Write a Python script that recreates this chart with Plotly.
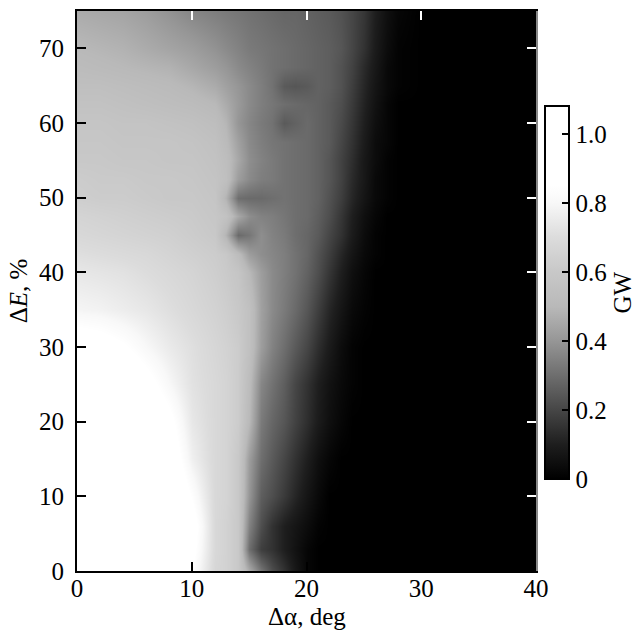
import plotly.graph_objects as go

# x: angle spread (deg), y: energy spread (%)
alpha_deg = [0, 2, 4, 6, 8, 10, 12, 13, 14, 15, 16, 17, 18, 19, 20, 21, 22, 23, 24, 25, 26, 27, 28, 30, 40]
dE_pct = [0, 3, 6, 10, 15, 20, 25, 30, 35, 40, 42.5, 45, 47.5, 50, 52.5, 55, 57.5, 60, 62.5, 65, 67.5, 70, 75]

# power, GW (rows follow dE_pct, columns follow alpha_deg)
power_gw = [
    [1.0, 1.0, 1.0, 1.0, 1.0, 0.85, 0.67, 0.65, 0.60, 0.46, 0.32, 0.22, 0.15, 0.08, 0.02, 0, 0, 0, 0, 0, 0, 0, 0, 0, 0],
    [1.0, 1.0, 1.0, 1.0, 1.0, 0.88, 0.68, 0.65, 0.60, 0.30, 0.18, 0.15, 0.10, 0.06, 0.02, 0, 0, 0, 0, 0, 0, 0, 0, 0, 0],
    [1.0, 1.0, 1.0, 1.0, 1.0, 0.90, 0.68, 0.65, 0.60, 0.35, 0.22, 0.15, 0.10, 0.07, 0.04, 0.01, 0, 0, 0, 0, 0, 0, 0, 0, 0],
    [1.0, 1.0, 1.0, 1.0, 0.98, 0.84, 0.68, 0.66, 0.60, 0.40, 0.26, 0.22, 0.17, 0.12, 0.07, 0.03, 0, 0, 0, 0, 0, 0, 0, 0, 0],
    [1.0, 1.0, 1.0, 1.0, 0.93, 0.77, 0.68, 0.66, 0.60, 0.42, 0.30, 0.25, 0.20, 0.15, 0.10, 0.05, 0.02, 0, 0, 0, 0, 0, 0, 0, 0],
    [1.0, 1.0, 1.0, 0.97, 0.88, 0.74, 0.68, 0.66, 0.62, 0.50, 0.33, 0.28, 0.24, 0.19, 0.14, 0.09, 0.05, 0.02, 0, 0, 0, 0, 0, 0, 0],
    [1.0, 1.0, 0.97, 0.89, 0.80, 0.72, 0.68, 0.66, 0.62, 0.52, 0.36, 0.31, 0.26, 0.20, 0.15, 0.10, 0.06, 0.03, 0.01, 0, 0, 0, 0, 0, 0],
    [0.92, 0.90, 0.86, 0.80, 0.75, 0.71, 0.67, 0.65, 0.62, 0.55, 0.42, 0.35, 0.30, 0.25, 0.20, 0.14, 0.09, 0.04, 0.01, 0, 0, 0, 0, 0, 0],
    [0.79, 0.78, 0.76, 0.74, 0.71, 0.68, 0.65, 0.63, 0.60, 0.55, 0.43, 0.37, 0.33, 0.29, 0.24, 0.18, 0.12, 0.07, 0.03, 0.01, 0, 0, 0, 0, 0],
    [0.74, 0.73, 0.72, 0.70, 0.68, 0.66, 0.63, 0.61, 0.58, 0.50, 0.42, 0.37, 0.34, 0.31, 0.27, 0.22, 0.16, 0.10, 0.05, 0.02, 0, 0, 0, 0, 0],
    [0.71, 0.70, 0.69, 0.68, 0.66, 0.64, 0.62, 0.60, 0.52, 0.42, 0.38, 0.36, 0.34, 0.31, 0.28, 0.23, 0.18, 0.12, 0.07, 0.03, 0.01, 0, 0, 0, 0],
    [0.68, 0.67, 0.66, 0.65, 0.64, 0.62, 0.60, 0.48, 0.29, 0.32, 0.38, 0.35, 0.33, 0.30, 0.28, 0.25, 0.20, 0.15, 0.09, 0.04, 0.01, 0, 0, 0, 0],
    [0.66, 0.65, 0.64, 0.63, 0.62, 0.61, 0.59, 0.56, 0.45, 0.38, 0.35, 0.34, 0.32, 0.30, 0.29, 0.26, 0.22, 0.16, 0.10, 0.05, 0.02, 0, 0, 0, 0],
    [0.63, 0.62, 0.62, 0.61, 0.60, 0.60, 0.58, 0.48, 0.30, 0.29, 0.29, 0.30, 0.31, 0.30, 0.29, 0.27, 0.23, 0.18, 0.12, 0.07, 0.03, 0.01, 0, 0, 0],
    [0.62, 0.61, 0.61, 0.60, 0.60, 0.59, 0.57, 0.54, 0.42, 0.37, 0.34, 0.33, 0.31, 0.30, 0.29, 0.27, 0.24, 0.19, 0.13, 0.08, 0.03, 0.01, 0, 0, 0],
    [0.60, 0.60, 0.59, 0.59, 0.58, 0.58, 0.56, 0.53, 0.45, 0.38, 0.35, 0.33, 0.31, 0.30, 0.29, 0.27, 0.24, 0.19, 0.14, 0.08, 0.04, 0.01, 0, 0, 0],
    [0.59, 0.59, 0.58, 0.58, 0.58, 0.57, 0.55, 0.51, 0.43, 0.37, 0.34, 0.32, 0.31, 0.30, 0.29, 0.27, 0.25, 0.20, 0.15, 0.09, 0.04, 0.02, 0, 0, 0],
    [0.58, 0.58, 0.57, 0.57, 0.56, 0.55, 0.53, 0.49, 0.40, 0.36, 0.33, 0.31, 0.25, 0.27, 0.29, 0.27, 0.25, 0.21, 0.16, 0.10, 0.05, 0.02, 0, 0, 0],
    [0.56, 0.56, 0.55, 0.54, 0.53, 0.52, 0.50, 0.46, 0.41, 0.37, 0.34, 0.32, 0.30, 0.29, 0.28, 0.27, 0.25, 0.22, 0.17, 0.11, 0.06, 0.02, 0, 0, 0],
    [0.54, 0.54, 0.53, 0.52, 0.51, 0.49, 0.46, 0.43, 0.40, 0.37, 0.34, 0.31, 0.25, 0.24, 0.25, 0.27, 0.26, 0.23, 0.18, 0.12, 0.07, 0.03, 0.01, 0, 0],
    [0.52, 0.51, 0.50, 0.49, 0.48, 0.45, 0.42, 0.40, 0.37, 0.35, 0.33, 0.31, 0.30, 0.29, 0.28, 0.27, 0.26, 0.23, 0.19, 0.13, 0.08, 0.03, 0.01, 0, 0],
    [0.50, 0.49, 0.48, 0.46, 0.44, 0.42, 0.39, 0.37, 0.35, 0.33, 0.32, 0.31, 0.30, 0.29, 0.28, 0.27, 0.26, 0.24, 0.20, 0.15, 0.09, 0.04, 0.01, 0, 0],
    [0.46, 0.45, 0.44, 0.42, 0.39, 0.36, 0.34, 0.33, 0.32, 0.31, 0.30, 0.29, 0.28, 0.28, 0.27, 0.26, 0.25, 0.23, 0.20, 0.16, 0.10, 0.05, 0.02, 0, 0],
]

x_ticks = [0, 10, 20, 30, 40]
y_ticks = [0, 10, 20, 30, 40, 50, 60, 70]
cb_ticks = [0, 0.2, 0.4, 0.6, 0.8, 1.0]
cb_labels = ["0", "0.2", "0.4", "0.6", "0.8", "1.0"]

ZMAX = 1.08
gray_stops = [(0, 0), (0.1, 30), (0.2, 70), (0.3, 110), (0.4, 150), (0.5, 185),
              (0.6, 200), (0.7, 220), (0.8, 248), (0.85, 255), (ZMAX, 255)]
colorscale = [[v / ZMAX, f"rgb({g},{g},{g})"] for v, g in gray_stops]

FONT = "Liberation Serif"
FS = 25

fig = go.Figure()
fig.add_trace(go.Heatmap(
    x=alpha_deg, y=dE_pct, z=power_gw,
    zmin=0, zmax=ZMAX, zsmooth="best",
    colorscale=colorscale,
    colorbar=dict(
        x=1.0196, xanchor="left", xref="paper", xpad=0, ypad=0,
        y=0.497, yanchor="middle", len=0.666, lenmode="fraction",
        thickness=24, outlinewidth=2, outlinecolor="black",
        ticks="inside", ticklen=8, tickcolor="black", tickwidth=1.5,
        tickvals=cb_ticks, ticktext=cb_labels,
        tickfont=dict(family=FONT, size=FS, color="black"),
        title=dict(text="GW", side="right", font=dict(family=FONT, size=FS, color="black")),
    ),
    showscale=True,
))
# helper invisible trace for the mirrored (white-tick) axes
fig.add_trace(go.Scatter(x=[0], y=[0], xaxis="x2", yaxis="y2", mode="markers",
                         marker=dict(opacity=0), showlegend=False, hoverinfo="skip"))

fig.update_layout(
    width=644, height=637,
    margin=dict(l=77, r=108, t=11, b=66, autoexpand=False),
    paper_bgcolor="white", plot_bgcolor="white",
    font=dict(family=FONT, size=FS, color="black"),
    showlegend=False,
    xaxis=dict(
        range=[0, 40], tickvals=x_ticks, ticks="inside", ticklen=9, tickwidth=1.5,
        tickcolor="black", showline=True, linecolor="black", linewidth=2,
        showgrid=False, zeroline=False, automargin=False, ticklabelstandoff=-6,
        tickfont=dict(family=FONT, size=FS, color="black"),
    ),
    yaxis=dict(
        range=[0, 75], tickvals=y_ticks, ticks="inside", ticklen=9, tickwidth=1.5,
        tickcolor="black", showline=True, linecolor="black", linewidth=2,
        showgrid=False, zeroline=False, automargin=False, ticklabelstandoff=6,
        tickfont=dict(family=FONT, size=FS, color="black"),
        title=dict(text="Δ<i>E</i>, %", font=dict(family=FONT, size=FS, color="black"), standoff=4),
    ),
    xaxis2=dict(
        range=[0, 40], tickvals=x_ticks, overlaying="x", side="top", anchor="y",
        ticks="inside", ticklen=9, tickwidth=1.5, tickcolor="white",
        showticklabels=False, showline=True, linecolor="black", linewidth=1.5,
        showgrid=False, zeroline=False, automargin=False,
    ),
    yaxis2=dict(
        range=[0, 75], tickvals=y_ticks, overlaying="y", side="right", anchor="x",
        ticks="inside", ticklen=9, tickwidth=1.5, tickcolor="white",
        showticklabels=False, showline=True, linecolor="#888888", linewidth=1.5,
        showgrid=False, zeroline=False, automargin=False,
    ),
    annotations=[dict(
        text="Δα, deg", xref="paper", yref="paper", x=0.5, y=-0.082,
        xanchor="center", yanchor="middle", showarrow=False,
        font=dict(family=FONT, size=FS, color="black"),
    )],
)

fig.write_html("out.html", config={"displayModeBar": False},
               post_script="document.body.style.margin='0';")
